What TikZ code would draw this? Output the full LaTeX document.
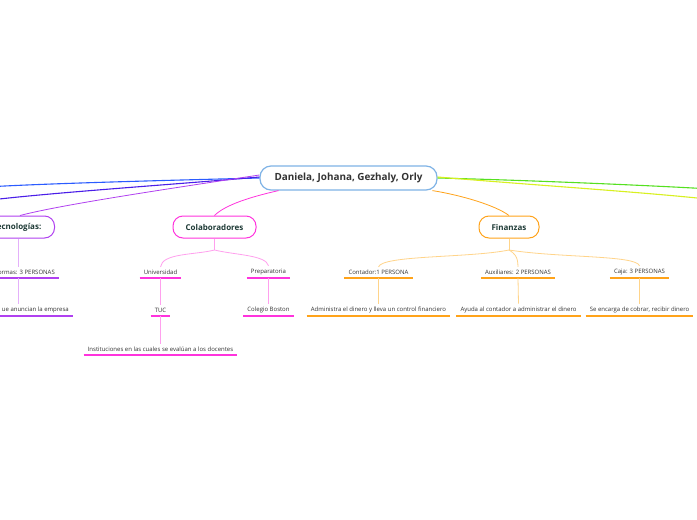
\documentclass[tikz,border=0pt]{standalone}
\usepackage{fontspec}
\setmainfont{Open Sans}
\begin{document}
\begin{tikzpicture}[x=1pt,y=-1pt,
  topic/.style={draw,rounded corners=10pt,line width=1pt,minimum height=22pt,inner xsep=12pt,
    font=\fontsize{8}{9}\selectfont\bfseries,text=titlec},
  sub/.style={inner xsep=4pt,inner ysep=3pt,font=\fontsize{6}{7}\selectfont,text=textc,anchor=south},
  uline/.style={line width=1.3pt},
  conn/.style={line width=0.8pt}]
\definecolor{titlec}{HTML}{1E3A36}
\definecolor{textc}{HTML}{333333}
\definecolor{cblue}{HTML}{7FB3E6}
\definecolor{magc}{HTML}{FF33DD}
\definecolor{lmag}{HTML}{FFA0EE}
\definecolor{orc}{HTML}{FFA31A}
\definecolor{lor}{HTML}{FFD48A}
\definecolor{purc}{HTML}{B040F0}
\definecolor{lpur}{HTML}{E4B0FA}
\definecolor{blue1}{HTML}{2B5BFF}
\definecolor{blue2}{HTML}{4A1EE8}
\definecolor{grn}{HTML}{55E020}
\definecolor{ylw}{HTML}{D8F020}
\useasboundingbox (0,0) rectangle (697,520);
\clip (0,0) rectangle (697,520);
\fill[white] (0,0) rectangle (697,520);

% central
\node[draw=cblue,line width=1.2pt,rounded corners=11pt,minimum height=24pt,minimum width=177pt,
  font=\fontsize{9.9}{11}\selectfont\bfseries,text=textc] (center) at (348.5,178) {Daniela, Johana, Gezhaly, Orly};

% main topics
\node[topic,draw=purc,anchor=east,minimum width=75pt] (tec) at (55,227) {Tecnologías:};
\node[topic,draw=magc,minimum width=83pt] (colab) at (214.5,227) {Colaboradores};
\node[topic,draw=orc,minimum width=60pt] (fin) at (509,227) {Finanzas};

% free ends off page
\coordinate (offb1) at (-5,186.5);
\coordinate (offb2) at (-5,199.5);
\coordinate (offg) at (702,188.5);
\coordinate (offy) at (702,198.5);

\draw[conn,blue1,line width=1.1pt] (center.west) .. controls (180,180) and (60,183) .. (offb1);
\draw[conn,blue2,line width=1.1pt] ([yshift=1pt]center.west) .. controls (180,184) and (60,192) .. (offb2);
\draw[conn,purc] ([yshift=3pt]center.west) .. controls (160,190) and (60,205) .. (tec.north -| 20,0);
\draw[conn,grn,line width=1.1pt] (center.east) .. controls (520,180) and (640,185) .. (offg);
\draw[conn,ylw,line width=1.1pt] ([yshift=1pt]center.east) .. controls (520,184) and (640,192) .. (offy);
\draw[conn,magc] ([xshift=-70pt]center.south) .. controls (250,197) and (225,205) .. (colab.north);
\draw[conn,orc] ([xshift=84pt]center.south) .. controls (460,195) and (495,205) .. (fin.north);

% Tecnologias subtree
\node[sub,anchor=south east] (plat) at (59,278) {ormas: 3 PERSONAS};
\draw[uline,purc] (-2,278) -- (plat.south east);
\node[sub,anchor=south east] (anun) at (73,316) {ue anuncian la empresa};
\draw[uline,purc] (-2,316) -- (anun.south east);
\draw[conn,lpur] (tec.south -| 18,0) -- (plat.north -| 18,0);
\draw[conn,lpur] (plat.south -| 18,0) -- (anun.north -| 18,0);

% Colaboradores subtree
\coordinate (forkc) at (214.5,250);
\node[sub] (univ) at (160.5,278) {Universidad};
\node[sub] (prep) at (268.5,278) {Preparatoria};
\node[sub] (tuc) at (160.5,316) {TUC};
\node[sub] (inst) at (160.5,355) {Instituciones en las cuales se evalúan a los docentes};
\node[sub] (boston) at (268.5,316) {Colegio Boston};
\foreach \n in {univ,prep,tuc,inst,boston}{\draw[uline,magc] (\n.south west) -- (\n.south east);}
\draw[conn,lmag] (colab.south) -- (forkc);
\draw[conn,lmag] (forkc) .. controls (195,255) and (162,253) .. (univ.north);
\draw[conn,lmag] (forkc) .. controls (235,255) and (266,255) .. (prep.north);
\draw[conn,lmag] (univ.south) -- (tuc.north);
\draw[conn,lmag] (prep.south) -- (boston.north);
\draw[conn,lmag] (tuc.south) -- (inst.north);

% Finanzas subtree
\coordinate (forkf) at (509,250);
\node[sub] (cont) at (378.5,278) {Contador:1 PERSONA};
\node[sub] (aux) at (518,278) {Auxiliares: 2 PERSONAS};
\node[sub] (caja) at (639.5,278) {Caja: 3 PERSONAS};
\node[sub] (adm) at (378.5,316) {Administra el dinero y lleva un control financiero};
\node[sub] (ayu) at (518.5,316) {Ayuda al contador a administrar el dinero};
\node[sub] (cob) at (639.5,316) {Se encarga de cobrar, recibir dinero};
\foreach \n in {cont,aux,caja,adm,ayu,cob}{\draw[uline,orc] (\n.south west) -- (\n.south east);}
\draw[conn,lor] (fin.south) -- (forkf);
\draw[conn,lor] (forkf) .. controls (470,258) and (382,255) .. (cont.north);
\draw[conn,lor] (forkf) .. controls (514,253) and (518,256) .. (aux.north);
\draw[conn,lor] (forkf) .. controls (560,258) and (636,255) .. (caja.north);
\draw[conn,lor] (cont.south) -- (adm.north);
\draw[conn,lor] (aux.south) -- (ayu.north);
\draw[conn,lor] (caja.south) -- (cob.north);
\end{tikzpicture}
\end{document}
